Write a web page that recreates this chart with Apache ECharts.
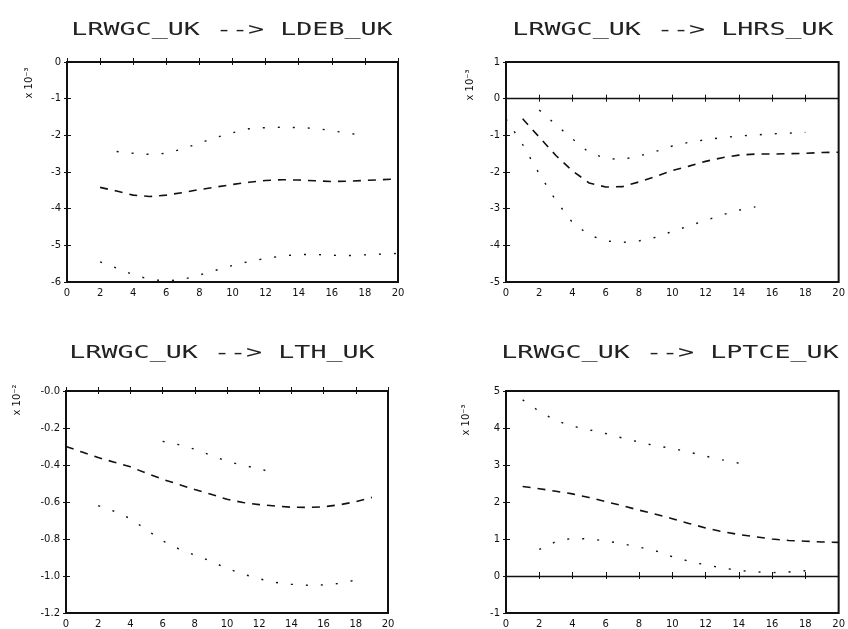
<!DOCTYPE html>
<html>
<head>
<meta charset="utf-8">
<script src="https://cdn.jsdelivr.net/npm/echarts@6/dist/echarts.min.js"></script>
<style>html,body{margin:0;padding:0;background:#fff;}#c{width:848px;height:629px;}</style>
</head>
<body>
<div id="c"></div>
<script>
// Horizons 0..20
const horizons = [0,1,2,3,4,5,6,7,8,9,10,11,12,13,14,15,16,17,18,19,20];

// Panel titles
const titles = [
  "LRWGC_UK --> LDEB_UK",
  "LRWGC_UK --> LHRS_UK",
  "LRWGC_UK --> LTH_UK",
  "LRWGC_UK --> LPTCE_UK"
];
const unitLabels = ["x 10\u207B\u00B3", "x 10\u207B\u00B3", "x 10\u207B\u00B2", "x 10\u207B\u00B3"];

// Top-left: LDEB_UK (x 10^-3)
const debMedian = [null,null,-3.42,-3.52,-3.63,-3.67,-3.63,-3.56,-3.48,-3.41,-3.34,-3.28,-3.23,-3.21,-3.22,-3.24,-3.26,-3.25,-3.23,-3.21,-3.19];
const debUpper  = [null,null,null,-2.44,-2.49,-2.52,-2.49,-2.37,-2.21,-2.06,-1.93,-1.82,-1.79,-1.78,-1.79,-1.81,-1.87,-1.95,-1.99,null,null];
const debLower  = [null,null,-5.45,-5.62,-5.80,-5.93,-5.97,-5.93,-5.81,-5.68,-5.55,-5.44,-5.36,-5.29,-5.25,-5.25,-5.27,-5.28,-5.26,-5.24,-5.22];

// Top-right: LHRS_UK (x 10^-3)
const hrsMedian = [null,-0.55,-1.05,-1.55,-1.97,-2.30,-2.41,-2.40,-2.27,-2.12,-1.96,-1.84,-1.71,-1.61,-1.54,-1.51,-1.51,-1.50,-1.49,-1.47,-1.46];
const hrsUpper  = [null,null,-0.31,-0.71,-1.10,-1.47,-1.63,-1.66,-1.56,-1.44,-1.29,-1.19,-1.12,-1.06,-1.02,-0.99,-0.96,-0.94,-0.92,null,null];
const hrsLower  = [-0.55,-1.25,-2.05,-2.78,-3.38,-3.72,-3.88,-3.92,-3.88,-3.78,-3.62,-3.47,-3.32,-3.17,-3.04,-2.95,null,null,null,null,null];

// Bottom-left: LTH_UK (x 10^-2)
const thMedian = [-0.30,-0.33,-0.36,-0.385,-0.41,-0.445,-0.477,-0.505,-0.533,-0.558,-0.585,-0.603,-0.614,-0.622,-0.628,-0.629,-0.626,-0.615,-0.598,-0.575,null];
const thUpper  = [null,null,null,null,null,null,-0.272,-0.29,-0.315,-0.348,-0.38,-0.402,-0.42,-0.445,null,null,null,null,null,null,null];
const thLower  = [null,null,-0.62,-0.65,-0.69,-0.75,-0.81,-0.853,-0.887,-0.92,-0.959,-0.99,-1.015,-1.035,-1.045,-1.05,-1.048,-1.04,-1.022,null,null];

// Bottom-right: LPTCE_UK (x 10^-3)
const ptceMedian = [null,2.42,2.36,2.29,2.22,2.12,2.01,1.90,1.78,1.67,1.55,1.42,1.30,1.20,1.12,1.06,1.00,0.96,0.94,0.92,0.91];
const ptceUpper  = [null,4.76,4.45,4.20,4.05,3.95,3.85,3.73,3.62,3.52,3.45,3.35,3.24,3.14,3.05,null,null,null,null,null,null];
const ptceLower  = [null,null,0.72,0.93,1.02,1.00,0.95,0.87,0.78,0.68,0.52,0.40,0.30,0.22,0.15,0.11,0.09,0.11,0.14,null,null];

// y-axis scales
const yMins = [-6, -5, -1.2, -1];
const yMaxs = [0, 1, 0, 5];
const yIntervals = [1, 1, 0.2, 1];
const zeroLinePanels = [false, true, false, true];

const panels = [
  [debMedian, debUpper, debLower],
  [hrsMedian, hrsUpper, hrsLower],
  [thMedian, thUpper, thLower],
  [ptceMedian, ptceUpper, ptceLower]
];

// layout
const grids = [
  {left: 67, top: 62, width: 331, height: 220},
  {left: 506, top: 62, width: 336, height: 220},
  {left: 66, top: 391, width: 322, height: 222},
  {left: 506, top: 391, width: 336, height: 222}
];
const titlePos = [[232, 31], [673, 31], [222, 354], [670, 354]];
const unitPos = [[29, 83], [470, 85], [17, 400], [466, 420]];

const FONT = "DejaVu Sans";
const ink = "#111";

function fmtY(p) {
  return function (v) {
    if (p === 2) {
      if (Math.abs(v) < 1e-9) return "-0.0";
      return v.toFixed(1);
    }
    return String(Math.round(v));
  };
}

const option = {
  backgroundColor: "#fff",
  animation: false,
  grid: grids.map(g => Object.assign({show: true, borderColor: ink, borderWidth: 2, backgroundColor: "transparent"}, g)),
  xAxis: [],
  yAxis: [],
  series: [],
  graphic: []
};

for (let p = 0; p < 4; p++) {
  // bottom x axis
  option.xAxis.push({
    type: "value", gridIndex: p, min: 0, max: 20, interval: 2,
    axisLine: {show: false},
    axisTick: {show: true, inside: true, length: 4, lineStyle: {color: ink}},
    axisLabel: {color: ink, fontFamily: FONT, fontSize: 10, margin: 6},
    splitLine: {show: false}
  });
  // top x axis (ticks only)
  option.xAxis.push({
    type: "value", gridIndex: p, position: "top", min: 0, max: 20, interval: 2,
    axisLine: {show: false},
    axisTick: {show: true, inside: true, length: 3, lineStyle: {color: ink}},
    axisLabel: {show: false},
    splitLine: {show: false}
  });
  // left y axis
  option.yAxis.push({
    type: "value", gridIndex: p, min: yMins[p], max: yMaxs[p], interval: yIntervals[p],
    axisLine: {show: false},
    axisTick: {show: true, inside: true, length: 4, lineStyle: {color: ink}},
    axisLabel: {color: ink, fontFamily: FONT, fontSize: 10, margin: 6, formatter: fmtY(p)},
    splitLine: {show: false}
  });
  // right y axis (ticks only)
  option.yAxis.push({
    type: "value", gridIndex: p, position: "right", min: yMins[p], max: yMaxs[p], interval: yIntervals[p],
    axisLine: {show: false},
    axisTick: {show: true, inside: true, length: 3, lineStyle: {color: ink}},
    axisLabel: {show: false},
    splitLine: {show: false}
  });

  const [med, up, lo] = panels[p];
  const mk = arr => horizons.map((h, i) => [h, arr[i]]);
  const base = {type: "line", xAxisIndex: 2 * p, yAxisIndex: 2 * p, showSymbol: false, symbol: "none", silent: true, connectNulls: false};
  option.series.push(Object.assign({}, base, {
    name: "median" + p, data: mk(med),
    lineStyle: {color: ink, width: 1.6, type: [8, 7]},
    markLine: zeroLinePanels[p] ? {
      symbol: "none", silent: true, label: {show: false},
      lineStyle: {color: ink, width: 1.3, type: "solid"},
      data: [{yAxis: 0}]
    } : undefined
  }));
  option.series.push(Object.assign({}, base, {
    name: "upper" + p, data: mk(up),
    lineStyle: {color: ink, width: 1.4, type: [2, 13]}
  }));
  option.series.push(Object.assign({}, base, {
    name: "lower" + p, data: mk(lo),
    lineStyle: {color: ink, width: 1.4, type: [2, 13]}
  }));

  option.graphic.push({
    type: "text", x: titlePos[p][0], y: titlePos[p][1], scaleX: 1.57, silent: true,
    style: {text: titles[p], fill: "#222", font: "17px 'DejaVu Sans Mono'", align: "center", verticalAlign: "middle",
            textAlign: "center", textVerticalAlign: "middle"}
  });
  option.graphic.push({
    type: "text", x: unitPos[p][0], y: unitPos[p][1], rotation: Math.PI / 2, silent: true,
    style: {text: unitLabels[p], fill: ink, font: "10px 'DejaVu Sans'", align: "center", verticalAlign: "middle",
            textAlign: "center", textVerticalAlign: "middle"}
  });
}

const chart = echarts.init(document.getElementById("c"), null, {renderer: "canvas"});
chart.setOption(option);
</script>
</body>
</html>
